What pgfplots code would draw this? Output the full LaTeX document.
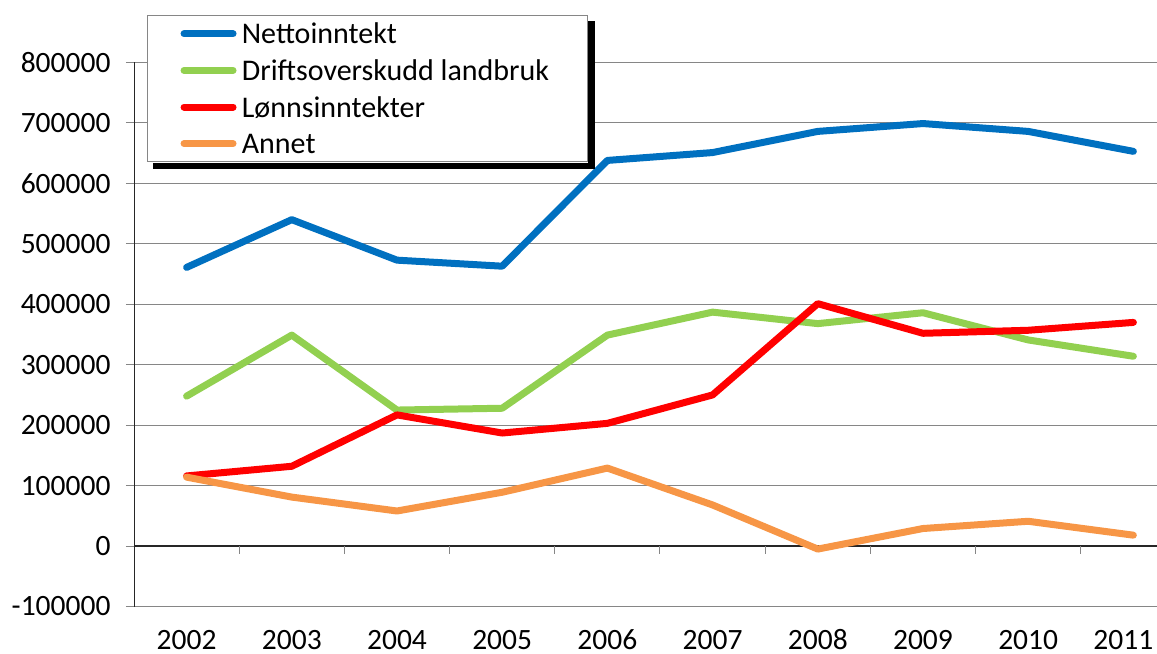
\documentclass[border=0pt]{standalone}
\usepackage{fontspec}
\setmainfont{Carlito}
\usepackage{pgfplots}
\pgfplotsset{compat=1.18}
\definecolor{cBlue}{HTML}{0070C0}
\definecolor{cGreen}{HTML}{92D050}
\definecolor{cRed}{HTML}{FF0000}
\definecolor{cOrange}{HTML}{F79646}
\definecolor{cGrid}{HTML}{868686}
\begin{document}
\begin{tikzpicture}
\useasboundingbox (0,0) rectangle (1157bp,654bp);
\clip (0,0) rectangle (1157bp,654bp);
\begin{axis}[
  at={(134bp,47.5bp)}, anchor=south west,
  scale only axis, width=1052bp, height=544bp,
  xmin=-0.5, xmax=9.5, ymin=-100000, ymax=800000,
  scaled y ticks=false,
  xtick={0,...,8},
  xticklabels={2002,2003,2004,2005,2006,2007,2008,2009,2010},
  extra x ticks={9},
  extra x tick labels={2011},
  extra x tick style={major tick length=0pt, xticklabel style={xshift=-10bp, yshift=-8bp}},
  ytick={-100000,0,100000,200000,300000,400000,500000,600000,700000,800000},
  yticklabels={-100000,0,100000,200000,300000,400000,500000,600000,700000,800000},
  ymajorgrids, grid style={cGrid, line width=1bp},
  axis line style={draw=none},
  xtick style={draw=none},
  ytick style={cGrid, line width=1bp},
  tick align=outside, major tick length=8bp,
  tick label style={font=\fontsize{29.5bp}{34bp}\selectfont},
  yticklabel style={xshift=-12bp},
  xticklabel style={text height=19bp, text depth=0bp, inner sep=1.5bp, yshift=-14bp},
  legend style={name=leg, at={(0.0124,1.0873)}, anchor=north west, draw=cGrid, fill=white, line width=1bp,
    font=\fontsize{30bp}{35bp}\selectfont, inner xsep=33bp, inner ysep=0bp, row sep=0bp,
    nodes={text height=23bp, text depth=3bp, inner sep=5.3bp},
    /tikz/every even column/.append style={column sep=0bp}},
  legend cell align=left,
  legend image code/.code={\draw[line width=7bp, line cap=round] (3bp,0bp) -- (52bp,0bp);},
  every axis plot/.append style={line width=7bp, line join=round, line cap=round},
]
\draw[black!85, line width=1.5bp] (axis cs:-0.5,0) -- (axis cs:9.5,0);
\draw[black!85, line width=1.5bp] (axis cs:-0.5,-100000) -- (axis cs:-0.5,800000);
\pgfplotsinvokeforeach{0.5,1.5,...,8.5}{
  \draw[cGrid, line width=1bp] (axis cs:#1,0) -- ([yshift=-8bp]axis cs:#1,0);
}
\addplot[cBlue] coordinates {(0,461000) (1,540000) (2,473000) (3,463000) (4,638000) (5,651000) (6,686000) (7,699000) (8,686000) (9,653000)};
\addlegendentry{Nettoinntekt}
\addplot[cGreen] coordinates {(0,248000) (1,349000) (2,225000) (3,228000) (4,349000) (5,387000) (6,368000) (7,386000) (8,341000) (9,314000)};
\addlegendentry{Driftsoverskudd landbruk}
\addplot[cRed] coordinates {(0,116000) (1,132000) (2,217000) (3,187000) (4,203000) (5,250000) (6,401000) (7,352000) (8,357000) (9,370000)};
\addlegendentry{Lønnsinntekter}
\addplot[cOrange] coordinates {(0,114000) (1,81000) (2,58000) (3,89000) (4,129000) (5,68000) (6,-5000) (7,29000) (8,41000) (9,18000)};
\addlegendentry{Annet}
\end{axis}
\fill[black] ([xshift=6bp,yshift=-7bp]leg.south west) rectangle ([xshift=0.5bp,yshift=-0.5bp]leg.south east);
\fill[black] ([xshift=0.5bp,yshift=-7bp]leg.south east) rectangle ([xshift=7bp,yshift=-6bp]leg.north east);
\end{tikzpicture}
\end{document}
